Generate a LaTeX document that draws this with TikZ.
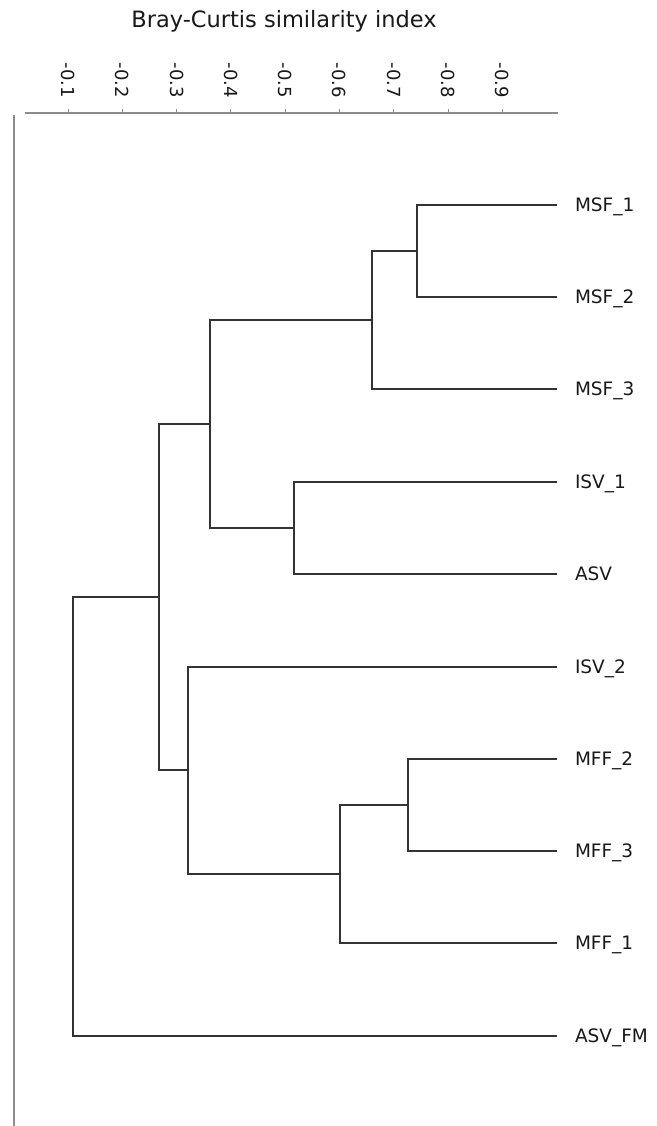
\documentclass[tikz,border=0pt]{standalone}
\usepackage{fontspec}
\setmainfont{DejaVu Sans}
\begin{document}
\begin{tikzpicture}[x=1pt,y=-1pt,
  branch/.style={draw=black!80, line width=1.8pt},
  axisline/.style={draw=black!45, line width=1.3pt},
  leaf/.style={anchor=west, inner xsep=0pt, inner ysep=0pt, outer xsep=18pt,
    text height=13pt, text depth=0pt, font=\fontsize{18.5}{20}\selectfont, text=black!90},
  ticklabel/.style={rotate=-90, anchor=east, inner sep=0pt,
    font=\fontsize{18}{20}\selectfont, text=black!90},
]
% canvas
\fill[white, use as bounding box] (0,0) rectangle (656,1126);

% title and similarity axis
\node[font=\fontsize{22.5}{26}\selectfont, text=black!90] (title) at (284,21) {Bray-Curtis similarity index};
\draw[axisline] (25,113) -- (558,113);
\foreach \i in {1,...,9} {
  \draw[axisline, line width=1pt] ({68+54.3*(\i-1)},113) -- ({68+54.3*(\i-1)},109.5);
  \node[ticklabel] (t\i) at ({68+54.3*(\i-1)},98) {-0.\i};
}
\draw[axisline] (14,115) -- (14,1126);

% samples
\node[leaf] (MSF1)  at (557,205)  {MSF\_1};
\node[leaf] (MSF2)  at (557,297)  {MSF\_2};
\node[leaf] (MSF3)  at (557,389)  {MSF\_3};
\node[leaf] (ISV1)  at (557,482)  {ISV\_1};
\node[leaf] (ASV)   at (557,574)  {ASV};
\node[leaf] (ISV2)  at (557,667)  {ISV\_2};
\node[leaf] (MFF2)  at (557,759)  {MFF\_2};
\node[leaf] (MFF3)  at (557,851)  {MFF\_3};
\node[leaf] (MFF1)  at (557,943)  {MFF\_1};
\node[leaf] (ASVFM) at (557,1036) {ASV\_FM};

% merge points
\coordinate (a) at (417,251);
\coordinate (b) at (372,320);
\coordinate (c) at (294,528);
\coordinate (d) at (210,424);
\coordinate (e) at (408,805);
\coordinate (f) at (340,874);
\coordinate (g) at (188,770);
\coordinate (h) at (159,597);
\coordinate (r) at (73,816);

% branches
\draw[branch] (a) |- (MSF1.west);
\draw[branch] (a) |- (MSF2.west);
\draw[branch] (b) |- (a);
\draw[branch] (b) |- (MSF3.west);
\draw[branch] (c) |- (ISV1.west);
\draw[branch] (c) |- (ASV.west);
\draw[branch] (d) |- (b);
\draw[branch] (d) |- (c);
\draw[branch] (e) |- (MFF2.west);
\draw[branch] (e) |- (MFF3.west);
\draw[branch] (f) |- (e);
\draw[branch] (f) |- (MFF1.west);
\draw[branch] (g) |- (ISV2.west);
\draw[branch] (g) |- (f);
\draw[branch] (h) |- (d);
\draw[branch] (h) |- (g);
\draw[branch] (r) |- (h);
\draw[branch] (r) |- (ASVFM.west);
\end{tikzpicture}
\end{document}
